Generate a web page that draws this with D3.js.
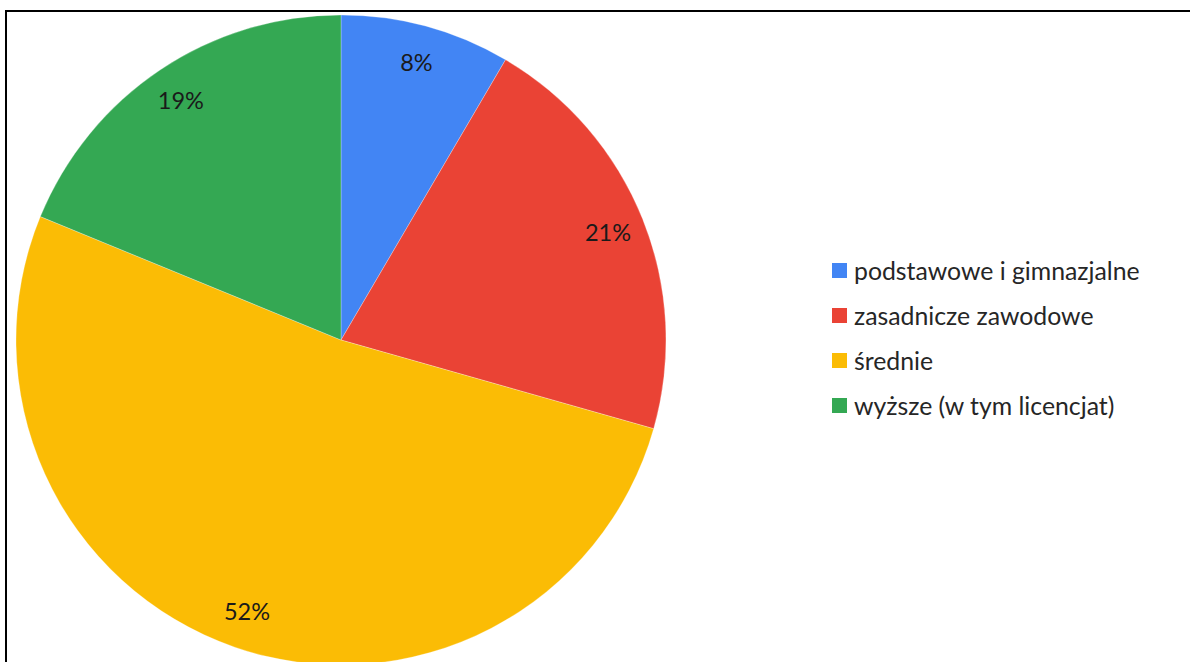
<!DOCTYPE html>
<html>
<head>
<meta charset="utf-8">
<script src="https://cdn.jsdelivr.net/npm/d3@7/dist/d3.min.js"></script>
<style>
  html, body { margin: 0; padding: 0; background: #fff; }
  svg { display: block; }
</style>
</head>
<body>
<svg id="chart" width="1190" height="662"></svg>
<script>
// Education level shares (percent)
const categories = ["podstawowe i gimnazjalne", "zasadnicze zawodowe", "średnie", "wyższe (w tym licencjat)"];
const shares = [8.45, 20.95, 51.8, 18.8];
const colors = ["#4285F4", "#EA4335", "#FBBC05", "#34A853"];

const svg = d3.select("#chart");
const fontFamily = "Lato, 'Open Sans', sans-serif";

// Outer frame (top and left edges visible inside the viewport)
svg.append("rect")
  .attr("x", 6).attr("y", 11)
  .attr("width", 1300).attr("height", 800)
  .attr("fill", "none")
  .attr("stroke", "#000")
  .attr("stroke-width", 2);

const cx = 341, cy = 340, R = 325;

const data = categories.map((c, i) => ({ name: c, value: shares[i], color: colors[i] }));

const pie = d3.pie().value(d => d.value).sort(null);
const arc = d3.arc().innerRadius(0).outerRadius(R);
const labelArc = d3.arc().innerRadius(R * 0.885).outerRadius(R * 0.885);

const g = svg.append("g").attr("transform", `translate(${cx},${cy})`);
const arcs = pie(data);

g.selectAll("path.slice")
  .data(arcs)
  .join("path")
  .attr("class", "slice")
  .attr("d", arc)
  .attr("fill", d => d.data.color)
  .attr("stroke", "rgba(255,255,255,0.45)")
  .attr("stroke-width", 0.6);

const fmt = v => d3.format(".0f")(v) + "%";

g.selectAll("text.lbl")
  .data(arcs)
  .join("text")
  .attr("class", "lbl")
  .attr("transform", d => `translate(${labelArc.centroid(d)})`)
  .attr("text-anchor", "middle")
  .attr("dy", "0.35em")
  .attr("font-family", fontFamily)
  .attr("font-size", 23.5)
  .attr("fill", "#1a1a1a")
  .text(d => fmt(d.data.value));

// Legend
const legend = svg.append("g").attr("transform", "translate(832,271)");
const rowH = 45;
const items = legend.selectAll("g.item")
  .data(data)
  .join("g")
  .attr("class", "item")
  .attr("transform", (d, i) => `translate(0,${i * rowH})`);

items.append("rect")
  .attr("x", 0).attr("y", -8)
  .attr("width", 15).attr("height", 15)
  .attr("fill", d => d.color);

items.append("text")
  .attr("x", 22)
  .attr("y", 0)
  .attr("dy", "0.35em")
  .attr("font-family", fontFamily)
  .attr("font-size", 24.8)
  .attr("fill", "#262626")
  .text(d => d.name);
</script>
</body>
</html>
